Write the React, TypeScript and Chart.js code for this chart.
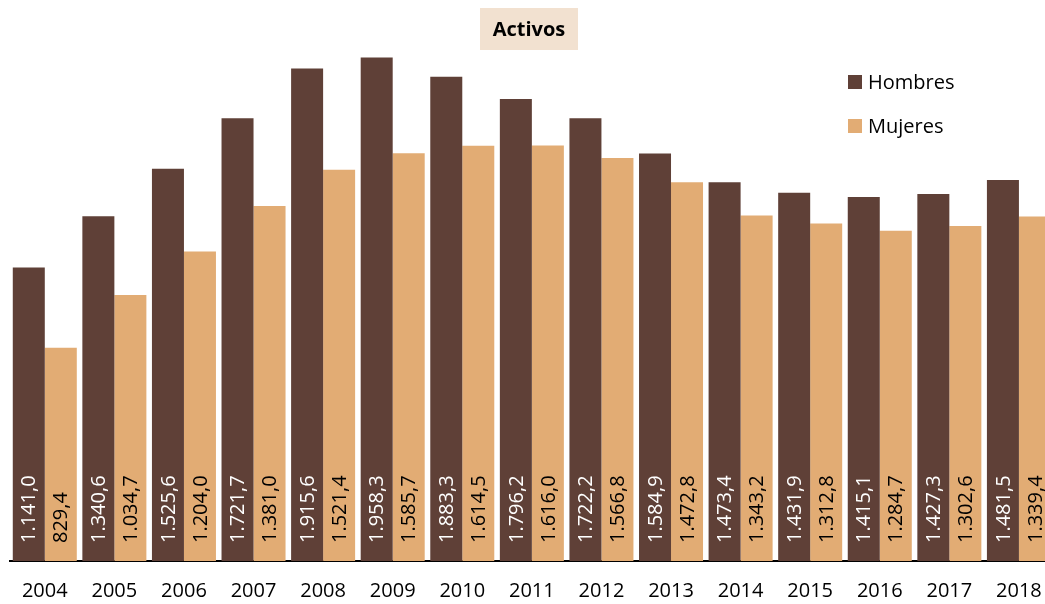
import React, { useEffect, useRef } from "react";
import { Chart, registerables } from "chart.js";

Chart.register(...registerables);

const years = ["2004", "2005", "2006", "2007", "2008", "2009", "2010", "2011", "2012", "2013", "2014", "2015", "2016", "2017", "2018"];
const hombres = [1141.0, 1340.6, 1525.6, 1721.7, 1915.6, 1958.3, 1883.3, 1796.2, 1722.2, 1584.9, 1473.4, 1431.9, 1415.1, 1427.3, 1481.5];
const mujeres = [829.4, 1034.7, 1204.0, 1381.0, 1521.4, 1585.7, 1614.5, 1616.0, 1566.8, 1472.8, 1343.2, 1312.8, 1284.7, 1302.6, 1339.4];
const seriesNames = ["Hombres", "Mujeres"];
const titleText = "Activos";

const COLORS = ["#5f4037", "#e2ac74"];
const FONT = "'Open Sans', sans-serif";

function fmt(v: number): string {
  const [i, d] = v.toFixed(1).split(".");
  const withDots = i.replace(/\B(?=(\d{3})+(?!\d))/g, ".");
  return withDots + "," + d;
}

const decorPlugin = {
  id: "decor",
  afterDatasetsDraw(chart: any) {
    const ctx = chart.ctx;
    chart.data.datasets.forEach((ds: any, i: number) => {
      const meta = chart.getDatasetMeta(i);
      meta.data.forEach((bar: any, j: number) => {
        ctx.save();
        ctx.translate(bar.x, bar.base - 18);
        ctx.rotate(-Math.PI / 2);
        ctx.font = `20px ${FONT}`;
        ctx.textAlign = "left";
        ctx.textBaseline = "middle";
        ctx.fillStyle = i === 0 ? "#ffffff" : "#000000";
        ctx.fillText(fmt(ds.data[j]), 0, 1);
        ctx.restore();
      });
    });
  },
  afterDraw(chart: any) {
    const ctx = chart.ctx;
    ctx.save();
    // title
    ctx.fillStyle = "#f2e1d0";
    ctx.fillRect(480, 8, 98, 42);
    ctx.fillStyle = "#000";
    ctx.font = `bold 20px ${FONT}`;
    ctx.textAlign = "center";
    ctx.textBaseline = "middle";
    ctx.fillText(titleText, 529, 30);
    // legend
    const ys = [82, 126];
    ctx.font = `20px ${FONT}`;
    ctx.textAlign = "left";
    seriesNames.forEach((name, i) => {
      ctx.fillStyle = COLORS[i];
      ctx.fillRect(848, ys[i] - 7, 14, 14);
      ctx.fillStyle = "#000";
      ctx.fillText(name, 868, ys[i] + 1);
    });
    ctx.restore();
  },
};

export default function App() {
  const ref = useRef<HTMLCanvasElement>(null);
  useEffect(() => {
    document.body.style.margin = "0";
    document.body.style.overflow = "hidden";
    const chart = new Chart(ref.current!, {
      type: "bar",
      data: {
        labels: years,
        datasets: [
          { label: seriesNames[0], data: hombres, backgroundColor: COLORS[0] },
          { label: seriesNames[1], data: mujeres, backgroundColor: COLORS[1] },
        ],
      },
      options: {
        responsive: false,
        animation: false,
        datasets: { bar: { categoryPercentage: 0.92, barPercentage: 1.0 } },
        layout: { padding: { left: 10, right: 6, top: 21, bottom: 0 } },
        plugins: { legend: { display: false }, title: { display: false }, tooltip: { enabled: false } },
        scales: {
          x: {
            grid: { display: false, drawTicks: false },
            border: { display: true, color: "#000", width: 2 },
            ticks: { color: "#000", font: { family: FONT, size: 20 }, padding: 18 },
            afterFit: (scale: any) => {
              scale.height = 43;
            },
          },
          y: { display: false, min: 0, max: 2100 },
        },
      },
      plugins: [decorPlugin],
    });
    return () => chart.destroy();
  }, []);
  return (
    <div style={{ position: "relative", width: 1060, height: 604 }}>
      <canvas ref={ref} width={1060} height={604} />
    </div>
  );
}
